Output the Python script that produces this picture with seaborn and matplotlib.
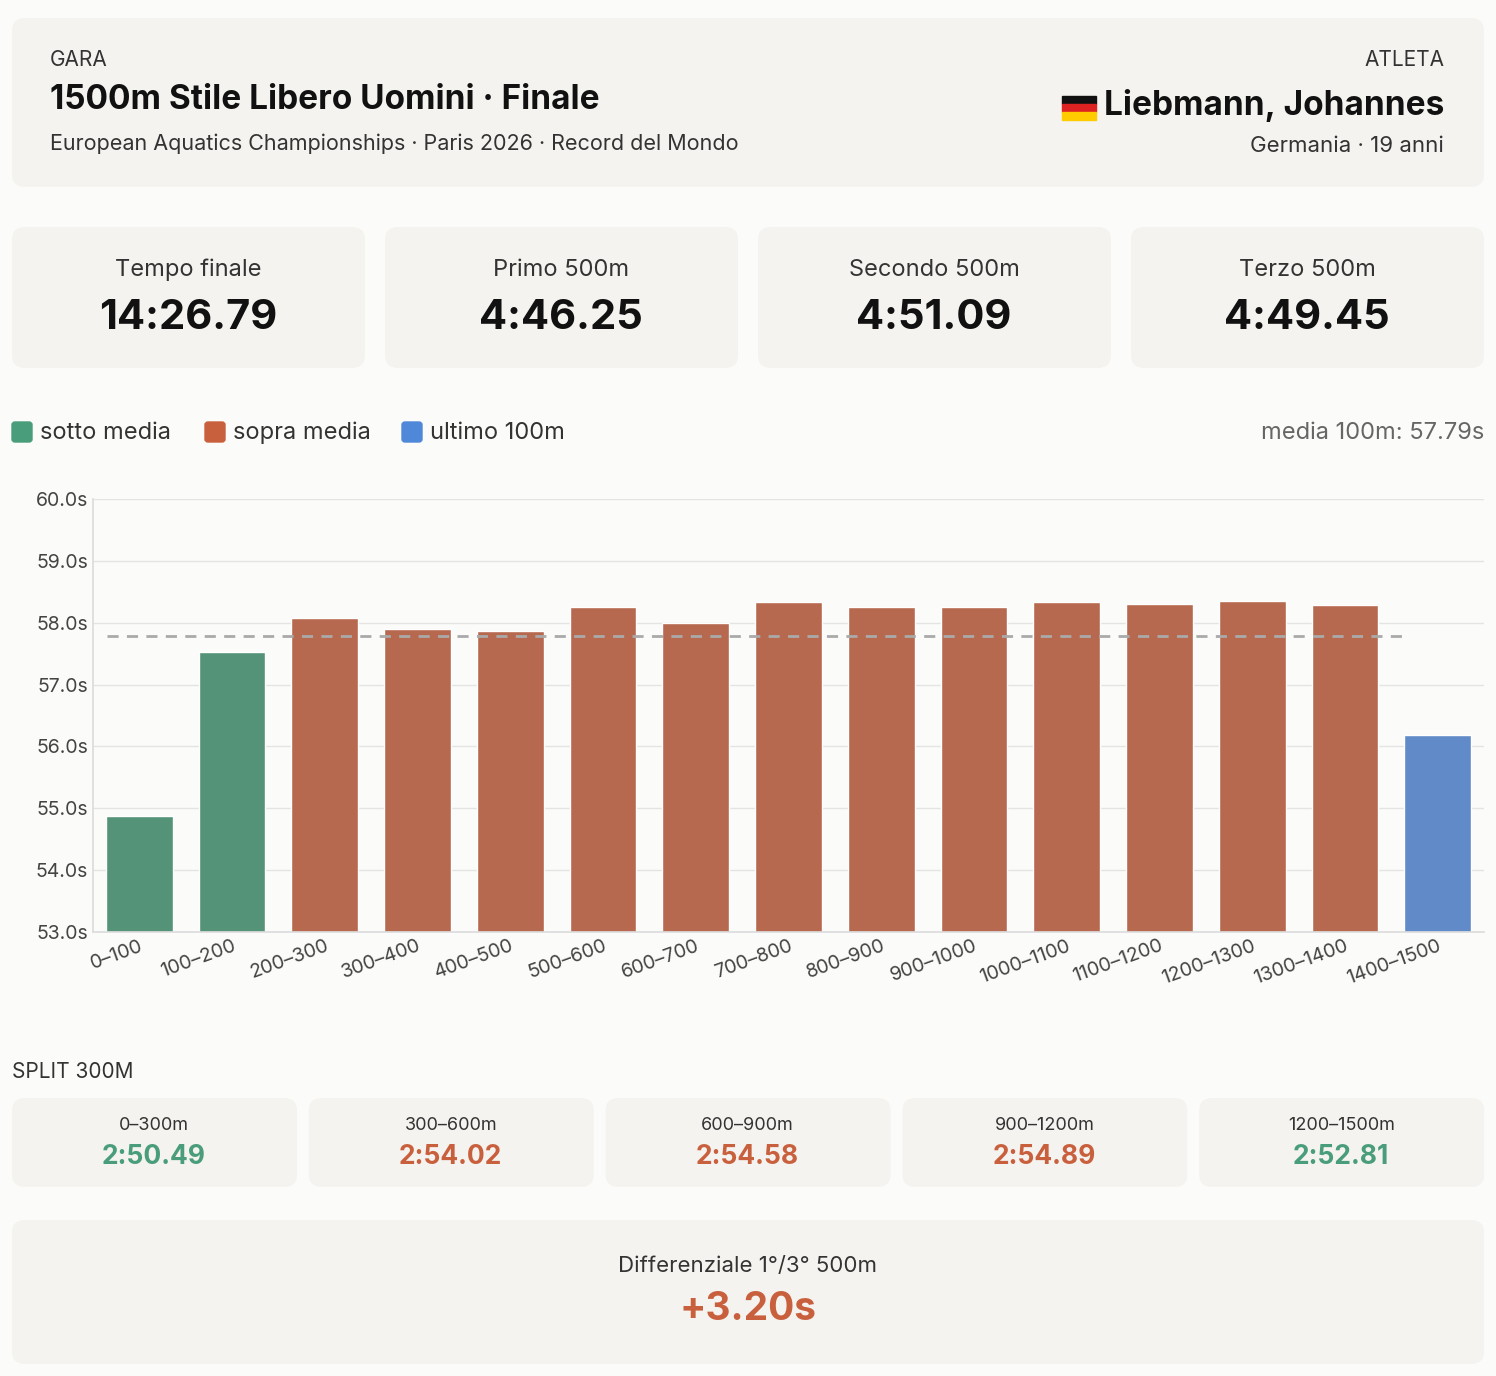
import matplotlib
matplotlib.use("Agg")
import matplotlib.pyplot as plt
from matplotlib.patches import FancyBboxPatch, Rectangle
import seaborn as sns
import pandas as pd
import numpy as np

# ── Data ──────────────────────────────────────────────────────────────────────
segments = ["0–100", "100–200", "200–300", "300–400", "400–500", "500–600",
            "600–700", "700–800", "800–900", "900–1000", "1000–1100",
            "1100–1200", "1200–1300", "1300–1400", "1400–1500"]
times = [54.88, 57.53, 58.08, 57.90, 57.86, 58.26, 58.00, 58.33, 58.25,
         58.25, 58.34, 58.30, 58.35, 58.28, 56.18]
stat_labels = ["Tempo finale", "Primo 500m", "Secondo 500m", "Terzo 500m"]
stat_values = ["14:26.79", "4:46.25", "4:51.09", "4:49.45"]
split_labels = ["0–300m", "300–600m", "600–900m", "900–1200m", "1200–1500m"]
split_values = ["2:50.49", "2:54.02", "2:54.58", "2:54.89", "2:52.81"]
split_fast = [True, False, False, False, True]
yticks = [53, 54, 55, 56, 57, 58, 59, 60]

GREEN, RED, BLUE = "#4a9d7a", "#c9603d", "#4f88d9"
CARD = "#f4f3ef"
W, H = 1496, 1376

sns.set_theme(style="white")
plt.rcParams["font.family"] = ["Inter", "DejaVu Sans"]

fig = plt.figure(figsize=(W / 100, H / 100), dpi=100)
fig.patch.set_facecolor("#fbfbf9")


def fx(x):
    return x / W


def fy(y):
    return 1 - y / H


def card(x0, y0, x1, y1):
    fig.patches.append(FancyBboxPatch(
        (fx(x0), fy(y1)), fx(x1 - x0), (y1 - y0) / H,
        boxstyle="round,pad=0,rounding_size=0.009", transform=fig.transFigure,
        facecolor=CARD, edgecolor="none", zorder=0))


def txt(x, y, s, **kw):
    fig.text(fx(x), fy(y), s, **kw)


# ── Header ────────────────────────────────────────────────────────────────────
card(12, 18, 1484, 187)
txt(50, 60, "GARA", fontsize=15, color="#333333", va="center")
txt(50, 100, "1500m Stile Libero Uomini · Finale", fontsize=24, weight="bold",
    color="#111111", va="center")
txt(50, 144, "European Aquatics Championships · Paris 2026 · Record del Mondo",
    fontsize=15.5, color="#333333", va="center")
txt(1444, 60, "ATLETA", fontsize=15, color="#333333", va="center", ha="right")
txt(1444, 106, "Liebmann, Johannes", fontsize=24, weight="bold",
    color="#111111", va="center", ha="right")
for i, c in enumerate(["#111111", "#dd2222", "#ffcc00"]):
    fig.patches.append(Rectangle((fx(1062), fy(96 + 8 * (i + 1))), fx(34), 8 / H,
                                 transform=fig.transFigure, color=c))
txt(1444, 146, "Germania · 19 anni", fontsize=16, color="#333333",
    va="center", ha="right")

# ── Stat cards ────────────────────────────────────────────────────────────────
for i, (lab, val) in enumerate(zip(stat_labels, stat_values)):
    x0 = 12 + i * 373
    card(x0, 227, x0 + 353, 368)
    cx = x0 + 176
    txt(cx, 270, lab, fontsize=17, color="#333333", ha="center", va="center")
    txt(cx, 318, val, fontsize=30, weight="bold", color="#111111",
        ha="center", va="center")

# ── Legend ────────────────────────────────────────────────────────────────────
for x, c, lab in [(12, GREEN, "sotto media"), (205, RED, "sopra media"),
                  (402, BLUE, "ultimo 100m")]:
    fig.patches.append(FancyBboxPatch((fx(x), fy(442)), fx(20), 20 / H,
                                      boxstyle="round,pad=0,rounding_size=0.002",
                                      transform=fig.transFigure, color=c))
    txt(x + 28, 433, lab, fontsize=17, color="#333333", va="center")
mean = np.mean(times)
txt(1484, 433, f"media 100m: {mean:.2f}s", fontsize=17, color="#666666",
    va="center", ha="right")

# ── Bar chart ─────────────────────────────────────────────────────────────────
df = pd.DataFrame({"seg": segments, "t": times})
df["cat"] = ["last" if i == len(times) - 1 else ("below" if t < mean else "above")
             for i, t in enumerate(times)]
ax = fig.add_axes([fx(93), fy(932), fx(1484 - 93), (932 - 499) / H])
ax.set_facecolor("#fbfbf9")
sns.barplot(data=df, x="seg", y="t", hue="cat", dodge=False, ax=ax,
            palette={"below": GREEN, "above": RED, "last": BLUE},
            width=0.72, legend=False, zorder=2)
ax.set_ylim(53, 60)
ax.set_yticks(yticks)
ax.set_yticklabels([f"{v:.1f}s" for v in yticks], fontsize=14, color="#444444")
ax.grid(axis="y", color="#e4e4e4", lw=1, zorder=0)
ax.hlines(mean, -0.35, len(times) - 1.35, colors="#aaaaaa", linestyles=(0, (4, 3)),
          lw=2, zorder=3)
ax.set_xlim(-0.5, len(times) - 0.5)
ax.set_xlabel("")
ax.set_ylabel("")
ax.tick_params(axis="x", labelsize=14, labelcolor="#444444", length=0)
ax.tick_params(axis="y", length=0)
plt.setp(ax.get_xticklabels(), rotation=20, ha="right", rotation_mode="anchor")
for s in ["top", "right"]:
    ax.spines[s].set_visible(False)
ax.spines["left"].set_color("#dddddd")
ax.spines["bottom"].set_color("#dddddd")

# ── Split 300m ────────────────────────────────────────────────────────────────
txt(12, 1072, "SPLIT 300M", fontsize=15, color="#333333", va="center")
for i, (lab, val, fast) in enumerate(zip(split_labels, split_values, split_fast)):
    x0 = 12 + i * 296.8
    card(x0, 1098, x0 + 285, 1187)
    cx = x0 + 142
    txt(cx, 1126, lab, fontsize=13, color="#333333", ha="center", va="center")
    txt(cx, 1157, val, fontsize=19, weight="bold", color=GREEN if fast else RED,
        ha="center", va="center")

# ── Differential ──────────────────────────────────────────────────────────────
card(12, 1220, 1484, 1364)
txt(748, 1266, "Differenziale 1°/3° 500m", fontsize=16, color="#333333",
    ha="center", va="center")
txt(748, 1310, "+3.20s", fontsize=28, weight="bold", color=RED,
    ha="center", va="center")

fig.savefig("out.png", dpi=100, facecolor=fig.get_facecolor())
